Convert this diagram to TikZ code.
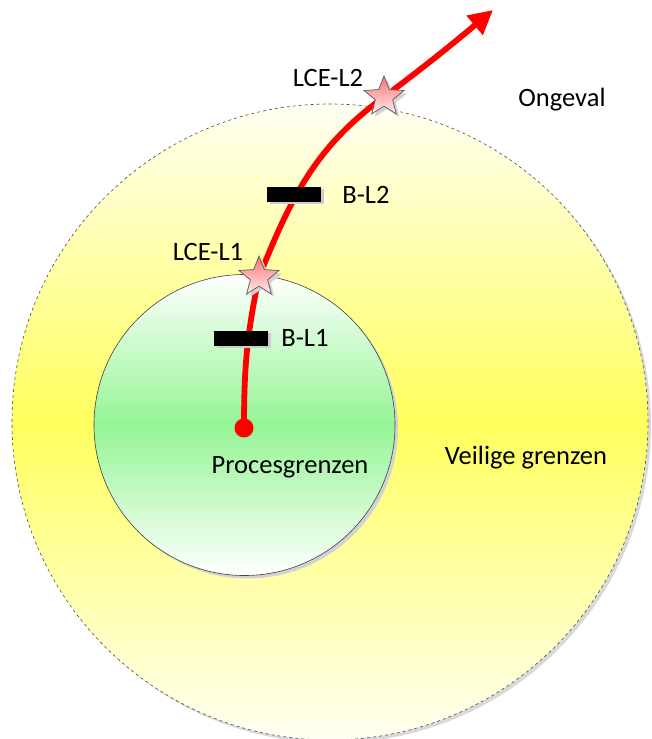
\documentclass[tikz,border=0pt]{standalone}
\usepackage{fontspec}
\setmainfont{Carlito}
\usetikzlibrary{shapes.geometric,shadows,arrows.meta}
\definecolor{redl}{HTML}{FF0000}
\definecolor{yelmid}{HTML}{FFFF5E}
\definecolor{yeledge}{HTML}{FFFFF2}
\definecolor{grnmid}{HTML}{94F594}
\tikzset{
  lbl/.style={font=\fontsize{26.5}{30}\selectfont, text=black, inner sep=0pt},
  barrier/.style={rectangle, fill=black, minimum width=54pt, minimum height=15pt, inner sep=0pt,
    drop shadow={shadow xshift=2.5pt, shadow yshift=-2.5pt, fill=gray!40, opacity=1}},
  lce/.style={star, star points=5, star point ratio=2.3, minimum size=42pt, inner sep=0pt,
    draw=black!65, line width=0.7pt, top color=red!55, bottom color=red!8,
    drop shadow={shadow xshift=3pt, shadow yshift=-3pt, fill=gray!35, opacity=1}},
  redline/.style={draw=redl, line width=5.8pt},
}
\begin{document}
\begin{tikzpicture}[x=1pt,y=1pt]
\useasboundingbox (0,0) rectangle (651,739);
\fill[white] (0,0) rectangle (651,739);
% outer circle (safe limits)
\node[circle, minimum size=636pt, inner sep=0pt, draw=black!70, dashed, line width=0.6pt,
  top color=yeledge, bottom color=yeledge, middle color=yelmid,
  drop shadow={shadow xshift=3pt, shadow yshift=-3pt, fill=gray!30, opacity=1}] (outer) at (330,317) {};
% inner circle (process limits)
\node[circle, minimum size=301pt, inner sep=0pt, draw=black!75, line width=0.6pt,
  top color=white, bottom color=white, middle color=grnmid,
  drop shadow={shadow xshift=3pt, shadow yshift=-3pt, fill=gray!35, opacity=1}] (inner) at (244.5,314) {};
% start dot and path points
\node[circle, fill=redl, minimum size=19pt, inner sep=0pt] (dot) at (244,311) {};
\coordinate (s1c) at (259,462);
\coordinate (s2c) at (384,642);
\coordinate (tip) at (493,729);
\draw[redline, -{Triangle[length=24pt,width=24pt]}] (dot.center) to[out=90,in=-102] (s1c)
  to[out=68,in=-144] (s2c) to[out=37,in=-140] (tip);
% barriers
\node[barrier] (b2) at (294,544.5) {};
\node[barrier] (b1) at (241,400.5) {};
% stars
\node[lce] (s1) at (s1c) {};
\node[lce] (s2) at (s2c) {};
% labels
\node[lbl] (lce2) at (328,661) {LCE-L2};
\node[lbl] (ong) at (562,639) {Ongeval};
\node[lbl] (bl2) at (366,544) {B-L2};
\node[lbl] (lce1) at (208,487) {LCE-L1};
\node[lbl] (bl1) at (305,401) {B-L1};
\node[lbl] (proc) at (290,272) {Procesgrenzen};
\node[lbl] (veil) at (526,281) {Veilige grenzen};
\end{tikzpicture}
\end{document}
